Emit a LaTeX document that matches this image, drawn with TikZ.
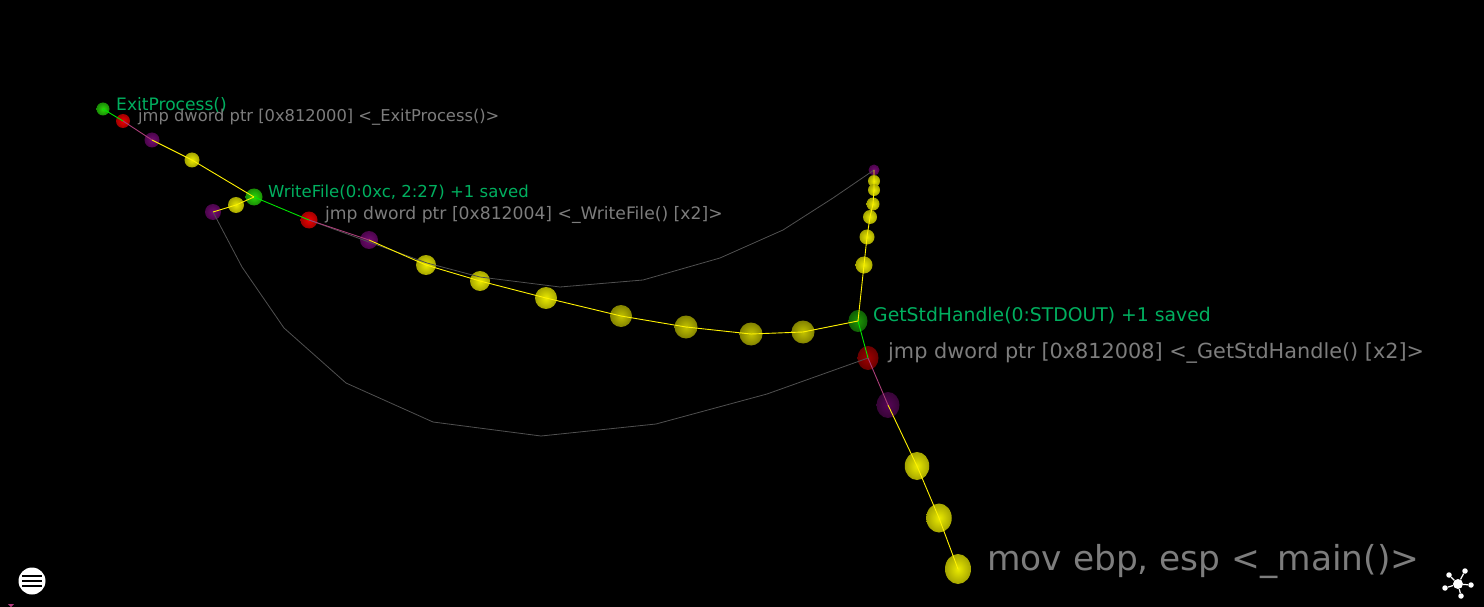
\documentclass[tikz,border=0pt]{standalone}
\usepackage{fontspec}
\setmainfont{DejaVu Sans}
\usetikzlibrary{shapes.geometric}
\definecolor{ygl}{RGB}{235,235,0}
\definecolor{ygd}{RGB}{165,165,0}
\definecolor{ydl}{RGB}{195,195,0}
\definecolor{ydd}{RGB}{130,130,0}
\definecolor{grl}{RGB}{45,215,10}
\definecolor{grd}{RGB}{25,140,5}
\definecolor{gdl}{RGB}{30,150,5}
\definecolor{gdd}{RGB}{15,95,5}
\definecolor{rdl}{RGB}{240,0,0}
\definecolor{rdd}{RGB}{160,0,0}
\definecolor{rkl}{RGB}{160,0,0}
\definecolor{rkd}{RGB}{105,0,0}
\definecolor{pul}{RGB}{115,10,115}
\definecolor{pud}{RGB}{75,5,75}
\definecolor{pkl}{RGB}{85,5,85}
\definecolor{pkd}{RGB}{55,5,55}
\definecolor{lblgreen}{RGB}{0,175,95}
\definecolor{lblgray}{RGB}{125,125,125}
\definecolor{linkgray}{RGB}{80,80,80}
\tikzset{
  x=1pt,y=-1pt,
  ball/.style n args={3}{ellipse,inner sep=0pt,minimum width=#1pt,minimum height=#1pt,inner color=#2,outer color=#3},
  yb/.style={ball={#1}{ygl}{ygd}},
  ydim/.style={ball={#1}{ydl}{ydd}},
  gb/.style={ball={#1}{grl}{grd}},
  gdim/.style={ball={#1}{gdl}{gdd}},
  rb/.style={ball={#1}{rdl}{rdd}},
  rdim/.style={ball={#1}{rkl}{rkd}},
  pb/.style={ball={#1}{pul}{pud}},
  pdim/.style={ball={#1}{pkl}{pkd}},
  tall/.style={minimum height=#1pt},
  yl/.style={draw=yellow,line width=0.9pt},
  gl/.style={draw=green!90!black,line width=0.9pt},
  ml/.style={draw=magenta!65!black,line width=0.9pt},
  gyl/.style={draw=linkgray,line width=0.8pt},
  lab/.style={anchor=west,inner sep=0pt,text=#1},
}
\begin{document}
\begin{tikzpicture}
\fill[black] (0,0) rectangle (1484,607);
\useasboundingbox (0,0) rectangle (1484,607);
% gray return bends
\coordinate (a1) at (242,267);\coordinate (a2) at (284,328);\coordinate (a3) at (346,383);
\coordinate (a4) at (433,422);\coordinate (a5) at (541,436);\coordinate (a6) at (656,424);
\coordinate (a7) at (767,394);
\coordinate (b1) at (369,242);\coordinate (b2) at (427,263);\coordinate (b3) at (480,277);
\coordinate (b4) at (560,287);\coordinate (b5) at (643,280);\coordinate (b6) at (720,258);
\coordinate (b7) at (783,230);\coordinate (b8) at (833,198);
% balls
\node[gb=13] (e1) at (103,109) {};
\node[rb=14] (e2) at (123,121) {};
\node[pb=15] (e3) at (152,140) {};
\node[yb=15] (e4) at (192,160) {};
\node[pb=16] (w0) at (213,212) {};
\node[yb=16] (w1) at (236,205) {};
\node[gb=17] (w2) at (254,197) {};
\node[rb=17] (w3) at (309,220) {};
\node[pb=18] (w4) at (369,240) {};
\node[yb=20] (p1) at (426,265) {};
\node[yb=20] (p2) at (480,281) {};
\node[yb=22] (p3) at (546,298) {};
\node[ydim=22] (p4) at (621,316) {};
\node[ydim=23] (p5) at (686,327) {};
\node[ydim=23] (p6) at (751,334) {};
\node[ydim=23] (p7) at (803,332) {};
\node[yb=12] (t1) at (874,181) {};
\node[yb=12] (t2) at (874,190) {};
\node[yb=13] (t3) at (873,204) {};
\node[yb=14] (t4) at (870,217) {};
\node[yb=15] (t5) at (867,237) {};
\node[yb=17] (t6) at (864,265) {};
\node[pb=11] (t0) at (874,170) {};
\node[gdim=19,tall=22] (g1) at (858,321) {};
\node[rdim=21,tall=24] (g2) at (868,358) {};
\node[pdim=23,tall=26] (g3) at (888,405) {};
\node[yb=24.5,tall=28] (m1) at (917,466) {};
\node[yb=25.5,tall=29] (m2) at (939,518) {};
\node[yb=26,tall=30] (m3) at (958,569) {};
% links
\draw[gyl] (w0.center) -- (a1) -- (a2) -- (a3) -- (a4) -- (a5) -- (a6) -- (a7) -- (g2.center);
\draw[gyl] (w3.center) -- (b1) -- (b2) -- (b3) -- (b4) -- (b5) -- (b6) -- (b7) -- (b8) -- (t0.center);
\draw[yl] (m3.center) -- (m2.center) -- (m1.center) -- (g3.center);
\draw[ml] (g3.center) -- (g2.center);
\draw[gl] (g2.center) -- (g1.center);
\draw[yl] (g1.center) -- (p7.center) -- (p6.center) -- (p5.center) -- (p4.center) -- (p3.center) -- (p2.center) -- (p1.center) -- (w4.center);
\draw[ml] (w4.center) -- (w3.center);
\draw[gl] (w3.center) -- (w2.center);
\draw[yl] (w2.center) -- (e4.center) -- (e3.center);
\draw[ml] (e3.center) -- (e2.center);
\draw[gl] (e2.center) -- (e1.center);
\draw[yl] (w0.center) -- (w1.center) -- (w2.center);
\draw[yl] (g1.center) -- (t6.center) -- (t5.center) -- (t4.center) -- (t3.center) -- (t2.center) -- (t1.center) -- (t0.center);
% labels
\node[lab=lblgreen,font=\fontsize{17.1}{17}\selectfont] (l1) at (116,105) {ExitProcess()};
\node[lab=lblgray,font=\fontsize{16.3}{16}\selectfont] (l2) at (138,117) {jmp dword ptr [0x812000] <\_ExitProcess()>};
\node[lab=lblgreen,font=\fontsize{16.5}{16}\selectfont] (l3) at (268,192) {WriteFile(0:0xc, 2:27) +1 saved};
\node[lab=lblgray,font=\fontsize{17.2}{17}\selectfont] (l4) at (325,215) {jmp dword ptr [0x812004] <\_WriteFile() [x2]>};
\node[lab=lblgreen,font=\fontsize{18.8}{19}\selectfont] (l5) at (873,316) {GetStdHandle(0:STDOUT) +1 saved};
\node[lab=lblgray,font=\fontsize{20.8}{21}\selectfont] (l6) at (888,353) {jmp dword ptr [0x812008] <\_GetStdHandle() [x2]>};
\node[lab=lblgray,font=\fontsize{34.4}{34}\selectfont] (l7) at (987,561) {mov ebp, esp <\_main()>};
% menu icon
\node[circle,fill=white,minimum size=27pt,inner sep=0pt] (menu) at (32,581) {};
\foreach \yy in {-5,0,5}{\fill[black] (22,581+\yy-1.3) rectangle (42,581+\yy+1.3);}
% network icon
\node[circle,fill=white,minimum size=10pt,inner sep=0pt] (hub) at (1458,584) {};
\node[circle,fill=white,minimum size=5.5pt,inner sep=0pt] (s1) at (1449,575) {};
\node[circle,fill=white,minimum size=5.5pt,inner sep=0pt] (s2) at (1465,571) {};
\node[circle,fill=white,minimum size=5.5pt,inner sep=0pt] (s3) at (1471,585) {};
\node[circle,fill=white,minimum size=5.5pt,inner sep=0pt] (s4) at (1461,596) {};
\node[circle,fill=white,minimum size=5.5pt,inner sep=0pt] (s5) at (1445,588) {};
\foreach \ss in {s1,s2,s3,s4,s5}{\draw[white,line width=1.2pt] (hub) -- (\ss);}
% small marker
\fill[magenta!70!black] (8,604) -- (14,604) -- (11,607) -- cycle;
\end{tikzpicture}
\end{document}
